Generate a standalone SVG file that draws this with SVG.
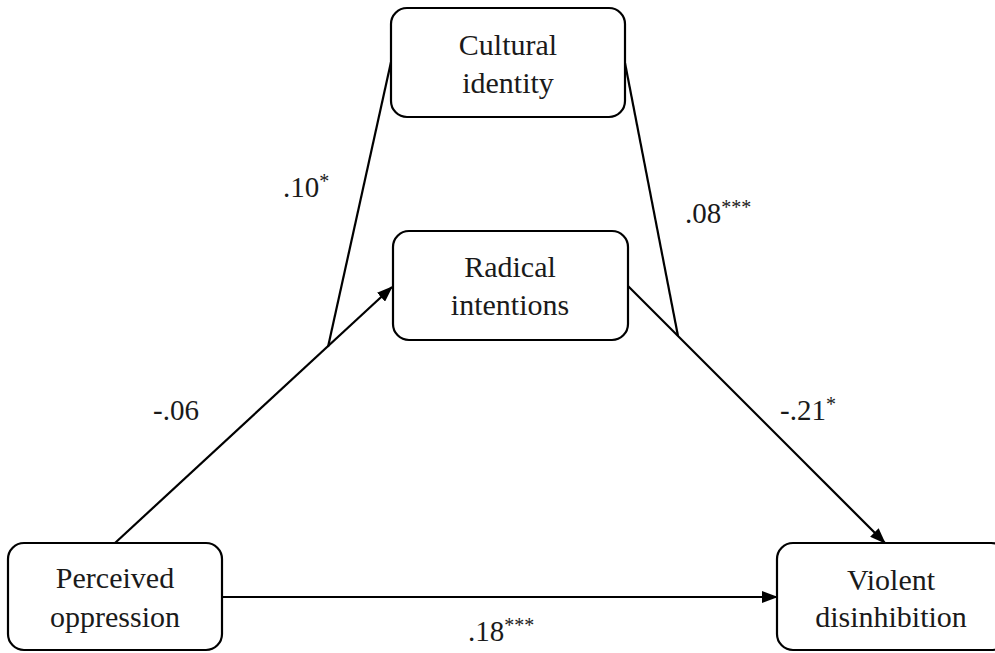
<svg xmlns="http://www.w3.org/2000/svg" width="995" height="653" viewBox="0 0 995 653">
<style>
.box{fill:#fff;stroke:#000;stroke-width:2.2}
.t{font-size:30px;fill:#1a1a1a;text-anchor:middle}
.l{font-size:29px;fill:#1a1a1a}
.sup{font-size:20px}
.c{fill:none;stroke:#000;stroke-width:2.2}
</style>
<defs>
<marker id="ah" markerWidth="16" markerHeight="12" refX="15" refY="6" orient="auto" markerUnits="userSpaceOnUse">
<path d="M0,0 L16,6 L0,12 Z" fill="#000"/>
</marker>
</defs>
<rect width="995" height="653" fill="#fff"/>
<g id="connectors">
<line class="c" x1="115" y1="543" x2="392" y2="287" marker-end="url(#ah)"/>
<line class="c" x1="628" y1="286" x2="885" y2="543" marker-end="url(#ah)"/>
<line class="c" x1="222" y1="597" x2="777" y2="597" marker-end="url(#ah)"/>
<line class="c" x1="391" y1="62" x2="328" y2="347"/>
<line class="c" x1="625" y1="63" x2="678" y2="336"/>
</g>
<g font-family="Liberation Serif, Times New Roman, serif">
<g id="cultural-identity">
<rect class="box" x="391" y="8" width="234" height="109" rx="16"/>
<text class="t" x="508" y="55">Cultural</text>
<text class="t" x="508" y="93">identity</text>
</g>
<g id="radical-intentions">
<rect class="box" x="393" y="231" width="235" height="109" rx="16"/>
<text class="t" x="510" y="277">Radical</text>
<text class="t" x="510" y="315">intentions</text>
</g>
<g id="perceived-oppression">
<rect class="box" x="8" y="543" width="214" height="107" rx="16"/>
<text class="t" x="115" y="588">Perceived</text>
<text class="t" x="115" y="627">oppression</text>
</g>
<g id="violent-disinhibition">
<rect class="box" x="777" y="543" width="230" height="107" rx="16"/>
<text class="t" x="891" y="590">Violent</text>
<text class="t" x="891" y="627">disinhibition</text>
</g>
<g id="labels">
<text class="l" x="283" y="197">.10<tspan class="sup" dy="-9">*</tspan></text>
<text class="l" x="685" y="223">.08<tspan class="sup" dy="-9">***</tspan></text>
<text class="l" x="153" y="420">-.06</text>
<text class="l" x="780" y="420">-.21<tspan class="sup" dy="-9">*</tspan></text>
<text class="l" x="468" y="641">.18<tspan class="sup" dy="-9">***</tspan></text>
</g>
</g>
</svg>
